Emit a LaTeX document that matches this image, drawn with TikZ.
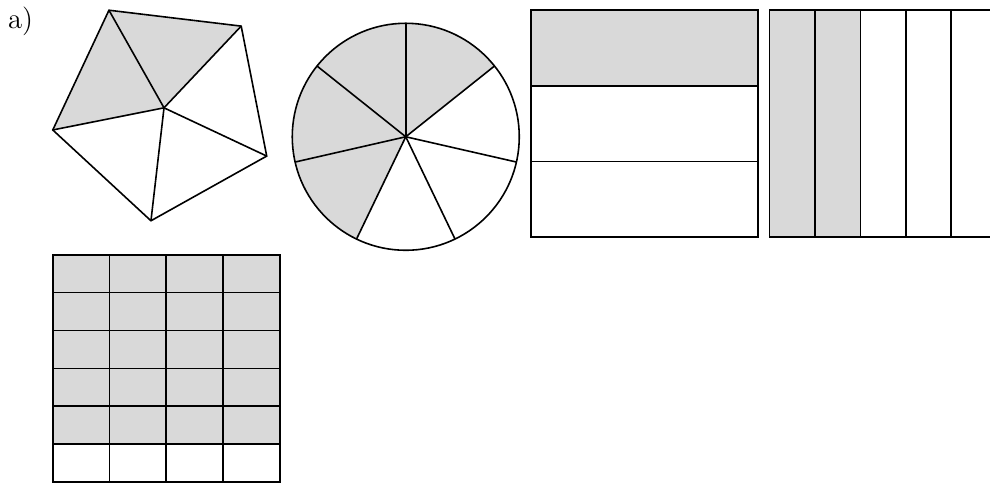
\documentclass[tikz,border=0pt]{standalone}
\begin{document}
\begin{tikzpicture}[thick,shaded/.style={fill=black!15}]
				\useasboundingbox (0,0) rectangle (17.445,-8.511);

				\node[anchor=base west,inner sep=0pt,font=\fontsize{14.4}{17}\selectfont] (label) at (0.13,-0.51) {a)};

				\coordinate (pA) at (1.92,-0.18);
				\coordinate (pB) at (4.25,-0.46);
				\coordinate (pC) at (4.70,-2.75);
				\coordinate (pD) at (2.66,-3.89);
				\coordinate (pE) at (0.93,-2.29);
				\coordinate (pO) at (2.89,-1.90);
				\fill[shaded] (pE) -- (pA) -- (pB) -- (pO) -- cycle;
				\draw (pA) -- (pB) -- (pC) -- (pD) -- (pE) -- cycle;
				\draw (pO) -- (pA);
				\draw (pO) -- (pB);
				\draw (pO) -- (pC);
				\draw (pO) -- (pD);
				\draw (pO) -- (pE);

				\coordinate (cM) at (7.15,-2.41);
				\fill[shaded] (cM) -- ++(38.57:2) arc[start angle=38.57,end angle=244.29,radius=2] -- cycle;
				\draw (cM) circle[radius=2];
				\draw (cM) -- ++(90:2);
				\draw (cM) -- ++(141.43:2);
				\draw (cM) -- ++(192.86:2);
				\draw (cM) -- ++(244.29:2);
				\draw (cM) -- ++(295.71:2);
				\draw (cM) -- ++(347.14:2);
				\draw (cM) -- ++(38.57:2);

				\fill[shaded] (9.36,-0.18) rectangle (13.36,-1.513);
				\draw (9.36,-0.18) rectangle (13.36,-4.18);
				\draw (9.36,-1.513) -- (13.36,-1.513);
				\draw (9.36,-2.847) -- (13.36,-2.847);

				\fill[shaded] (13.56,-0.18) rectangle (15.16,-4.18);
				\draw (13.56,-0.18) rectangle (17.56,-4.18);
				\draw (14.36,-0.18) -- (14.36,-4.18);
				\draw (15.16,-0.18) -- (15.16,-4.18);
				\draw (15.96,-0.18) -- (15.96,-4.18);
				\draw (16.76,-0.18) -- (16.76,-4.18);

				\fill[shaded] (0.93,-4.49) rectangle (4.93,-7.823);
				\draw (0.93,-4.49) rectangle (4.93,-8.49);
				\draw (1.93,-4.49) -- (1.93,-8.49);
				\draw (2.93,-4.49) -- (2.93,-8.49);
				\draw (3.93,-4.49) -- (3.93,-8.49);
				\draw (0.93,-5.157) -- (4.93,-5.157);
				\draw (0.93,-5.823) -- (4.93,-5.823);
				\draw (0.93,-6.49) -- (4.93,-6.49);
				\draw (0.93,-7.157) -- (4.93,-7.157);
				\draw (0.93,-7.823) -- (4.93,-7.823);

		\end{tikzpicture}
\end{document}
